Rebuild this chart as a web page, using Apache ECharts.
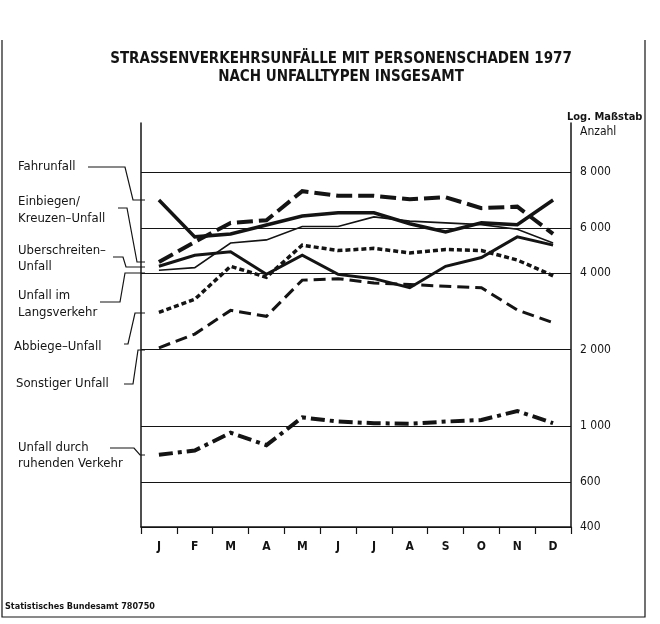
<!DOCTYPE html>
<html>
<head>
<meta charset="utf-8">
<script src="https://cdn.jsdelivr.net/npm/echarts/dist/echarts.min.js"></script>
<style>
  html, body { margin: 0; padding: 0; background: #fff; }
  #chart { width: 660px; height: 624px; }
</style>
</head>
<body>
<div id="chart"></div>
<script>
const titleLines = ['STRASSENVERKEHRSUNFÄLLE MIT PERSONENSCHADEN 1977', 'NACH UNFALLTYPEN INSGESAMT']
const months = ['J', 'F', 'M', 'A', 'M', 'J', 'J', 'A', 'S', 'O', 'N', 'D']

// Unfälle je Monat (Log. Maßstab)
const fahrunfall = [7750, 5550, 5700, 6180, 6700, 6900, 6900, 6250, 5800, 6300, 6200, 7750]
const einbiegen = [4420, 5300, 6300, 6450, 8400, 8050, 8050, 7800, 7950, 7200, 7300, 5700]
const ueberschreiten = [4250, 4700, 4850, 3950, 4700, 3950, 3800, 3500, 4250, 4600, 5550, 5150]
const laengsverkehr = [4100, 4200, 5250, 5400, 6100, 6100, 6650, 6400, 6300, 6200, 5950, 5250]
const abbiege = [2800, 3150, 4250, 3850, 5150, 4900, 5000, 4800, 4950, 4900, 4500, 3900]
const sonstiger = [2030, 2300, 2850, 2700, 3750, 3800, 3650, 3600, 3550, 3500, 2860, 2550]
const ruhend = [770, 800, 940, 840, 1080, 1040, 1025, 1020, 1040, 1055, 1145, 1025]

// Gitterlinien und ihre Beschriftung (so wie im Original beschriftet)
const gridValues = [400, 600, 1000, 2000, 4000, 6000, 10000]
const gridLabels = ['400', '600', '1 000', '2 000', '4 000', '6 000', '8 000']

const FONT = "'Liberation Sans Narrow', 'DejaVu Sans Condensed', 'Liberation Sans', sans-serif"
const INK = '#141414'

const chart = echarts.init(document.getElementById('chart'))

function line(name, data, width, type) {
  return {
    name: name,
    type: 'line',
    data: data,
    symbol: 'none',
    silent: true,
    animation: false,
    lineStyle: { color: INK, width: width, type: type, cap: 'butt', join: 'miter' },
  }
}

function txt(text, x, y, size, weight) {
  return {
    type: 'text',
    silent: true,
    style: {
      text: text, x: x, y: y, fill: INK,
      font: (weight || 'normal') + ' ' + size + 'px ' + FONT,
      textVerticalAlign: 'middle',
    },
  }
}

function leader(points) {
  return {
    type: 'polyline',
    silent: true,
    shape: { points: points },
    style: { stroke: INK, lineWidth: 1.2, fill: null },
  }
}

const series = [
  line('Fahrunfall', fahrunfall, 3.5, 'solid'),
  line('Einbiegen/Kreuzen-Unfall', einbiegen, 4, [16, 6]),
  line('Überschreiten-Unfall', ueberschreiten, 3, 'solid'),
  line('Unfall im Längsverkehr', laengsverkehr, 1.6, 'solid'),
  line('Abbiege-Unfall', abbiege, 3.5, [5, 3]),
  line('Sonstiger Unfall', sonstiger, 3, [12, 6]),
  line('Unfall durch ruhenden Verkehr', ruhend, 4, [14, 5, 4, 5]),
]

series[series.length - 1].markLine = {
  silent: true,
  animation: false,
  symbol: 'none',
  lineStyle: { color: INK, width: 1.2, type: 'solid' },
  label: {
    position: 'end', distance: 9, formatter: '{b}',
    color: INK, fontSize: 12, fontFamily: FONT,
  },
  data: gridValues.map((v, i) => ({ yAxis: v, name: gridLabels[i] })),
}

const option = {
  animation: false,
  backgroundColor: '#fff',
  title: {
    text: titleLines.join('\n'),
    left: 336,
    top: 45,
    textAlign: 'center',
    textStyle: { color: INK, fontSize: 15, fontWeight: 'bold', fontFamily: FONT, lineHeight: 18 },
  },
  grid: { left: 141, right: 89, top: 123, bottom: 97 },
  xAxis: {
    type: 'category',
    data: months,
    boundaryGap: true,
    axisLine: { onZero: false, lineStyle: { color: INK, width: 1.5 } },
    axisTick: { show: true, length: 7, lineStyle: { color: INK, width: 1.2 } },
    axisLabel: { color: INK, fontSize: 12, fontWeight: 'bold', fontFamily: FONT, margin: 14 },
    splitLine: { show: false },
  },
  yAxis: [
    {
      type: 'log', logBase: 10, min: 400, max: 15580,
      axisLine: { show: true, lineStyle: { color: INK, width: 1.5 } },
      axisTick: { show: false }, axisLabel: { show: false }, splitLine: { show: false },
    },
    {
      type: 'log', logBase: 10, min: 400, max: 15580, position: 'right',
      axisLine: { show: true, lineStyle: { color: INK, width: 1.5 } },
      axisTick: { show: false }, axisLabel: { show: false }, splitLine: { show: false },
    },
  ],
  series: series,
  graphic: [
    txt('Log. Maßstab', 567, 117, 11, 'bold'),
    txt('Anzahl', 580, 132, 12),

    txt('Fahrunfall', 18, 167, 13),
    leader([[88, 167], [125, 167], [133, 200], [145, 200]]),
    txt('Einbiegen/', 18, 202, 13),
    txt('Kreuzen–Unfall', 18, 219, 13),
    leader([[118, 208], [127, 208], [137, 262], [145, 262]]),
    txt('Uberschreiten–', 18, 251, 13),
    txt('Unfall', 18, 267, 13),
    leader([[113, 257], [123, 257], [126, 267], [145, 267]]),
    txt('Unfall im', 18, 296, 13),
    txt('Langsverkehr', 18, 313, 13),
    leader([[100, 302], [120, 302], [125, 273], [145, 273]]),
    txt('Abbiege–Unfall', 14, 347, 13),
    leader([[124, 344], [128, 344], [135, 313], [145, 313]]),
    txt('Sonstiger Unfall', 16, 384, 13),
    leader([[124, 384], [133, 384], [138, 350], [145, 350]]),
    txt('Unfall durch', 18, 448, 13),
    txt('ruhenden Verkehr', 18, 464, 13),
    leader([[110, 448], [134, 448], [140, 455], [145, 455]]),

    txt('Statistisches Bundesamt 780750', 5, 607, 9, 'bold'),
    leader([[2, 40], [2, 617], [645, 617], [645, 40]]),
  ],
}

chart.setOption(option)
window.addEventListener('resize', () => chart.resize())
</script>
</body>
</html>
